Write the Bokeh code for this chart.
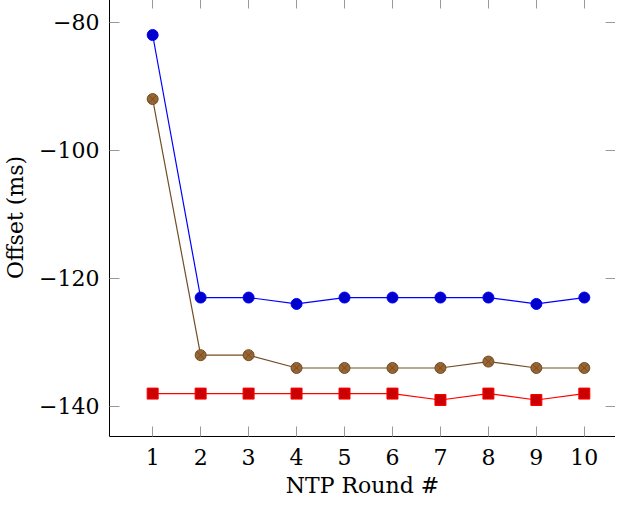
from bokeh.plotting import figure
from bokeh.models import LinearAxis, FixedTicker, Range1d
from bokeh.embed import file_html
from bokeh.resources import INLINE

# ---- data ----
rounds = [1, 2, 3, 4, 5, 6, 7, 8, 9, 10]
offset_blue = [-82, -123, -123, -124, -123, -123, -123, -123, -124, -123]
offset_brown = [-92, -132, -132, -134, -134, -134, -134, -133, -134, -134]
offset_red = [-138, -138, -138, -138, -138, -138, -139, -138, -139, -138]
y_ticks = [-140, -120, -100, -80]
y_tick_labels = ["\u2212140", "\u2212120", "\u2212100", "\u221280"]
x_ticks = rounds
x_tick_labels = [str(r) for r in rounds]

FONT = "DejaVu Serif"
FS = "22px"
TICK = "#999999"

# pgfplots-style 10% enlargement of the data limits
all_y = offset_blue + offset_brown + offset_red
ypad = 0.1 * (max(all_y) - min(all_y))
y_start, y_end = min(all_y) - ypad, max(all_y) + ypad
x_start, x_end = 0.1, 10.65

p = figure(width=615, height=502, output_backend="svg", toolbar_location=None,
           x_range=Range1d(x_start, x_end), y_range=Range1d(y_start, y_end),
           min_border_left=104, min_border_right=0, min_border_top=0, min_border_bottom=0,
           background_fill_color="white", border_fill_color="white")
p.margin = (-2, 0, -8, 0)
p.outline_line_color = None
p.grid.visible = False

xt = FixedTicker(ticks=x_ticks)
yt = FixedTicker(ticks=y_ticks)

for ax in (p.xaxis[0], p.yaxis[0]):
    ax.axis_line_color = "black"
    ax.axis_line_width = 1
    ax.major_tick_in = 10
    ax.major_tick_out = 0
    ax.major_tick_line_color = TICK
    ax.minor_tick_line_color = None
    ax.major_label_text_font = FONT
    ax.major_label_text_font_size = FS
    ax.major_label_text_color = "black"
    ax.axis_label_text_font = FONT
    ax.axis_label_text_font_size = FS
    ax.axis_label_text_font_style = "normal"
    ax.axis_label_text_color = "black"

p.xaxis[0].ticker = xt
p.xaxis[0].major_label_overrides = {t: l for t, l in zip(x_ticks, x_tick_labels)}
p.xaxis[0].major_label_standoff = 12
p.xaxis[0].axis_label = "NTP Round #"
p.xaxis[0].axis_label_standoff = 5

p.yaxis[0].ticker = yt
p.yaxis[0].major_label_overrides = {t: l for t, l in zip(y_ticks, y_tick_labels)}
p.yaxis[0].major_label_standoff = 10
p.yaxis[0].axis_label = "Offset (ms)"
p.yaxis[0].axis_label_standoff = 8

top = LinearAxis(ticker=xt, major_label_text_font_size="0px", major_label_text_color=None,
                 major_label_standoff=0,
                 axis_line_color="black", major_tick_in=10, major_tick_out=0,
                 major_tick_line_color=TICK, minor_tick_line_color=None)
right = LinearAxis(ticker=yt, major_label_text_font_size="0px", major_label_text_color=None,
                   major_label_standoff=0,
                   axis_line_color=None, major_tick_in=10, major_tick_out=0,
                   major_tick_line_color=TICK, minor_tick_line_color=None)
p.add_layout(top, "above")
p.add_layout(right, "right")

# series
p.line(rounds, offset_blue, line_color="#0000FF", line_width=1.2)
p.scatter(rounds, offset_blue, marker="circle", size=11, fill_color="#0000CC", line_color="#0000FF", line_width=1)

p.line(rounds, offset_brown, line_color="#734D26", line_width=1.2)
p.scatter(rounds, offset_brown, marker="circle_x", size=11, fill_color="#996633", line_color="#734D26", line_width=1)

p.line(rounds, offset_red, line_color="#FF0000", line_width=1.2)
p.scatter(rounds, offset_red, marker="square", size=11, fill_color="#CC0000", line_color="#FF0000", line_width=1)

open("out.html", "w").write(file_html(p, INLINE))
